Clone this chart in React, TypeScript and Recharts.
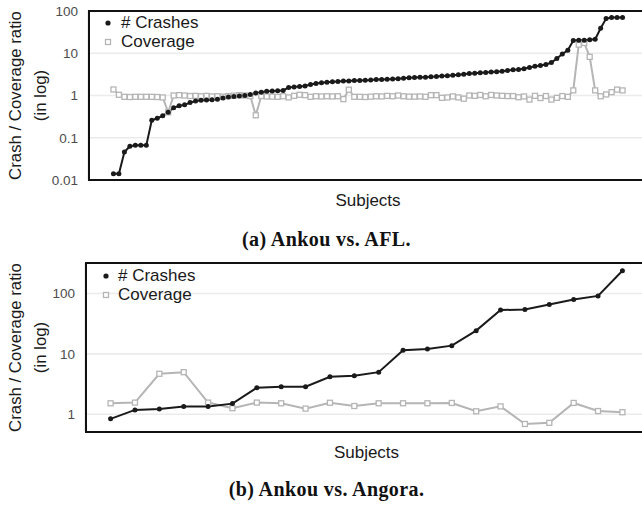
import { LineChart, Line, XAxis, YAxis, CartesianGrid, Legend } from 'recharts'

const SANS = '"Liberation Sans", Arial, Helvetica, sans-serif'
const SERIF = '"Liberation Serif", "Times New Roman", serif'
const CRASH_COLOR = '#1a1a1a'
const COV_COLOR = '#b5b5b5'

// (a) Ankou vs. AFL. — ratio per subject, sorted by crash ratio
const aflCrashes = [
  0.014, 0.014, 0.046, 0.063, 0.066, 0.066, 0.066, 0.26, 0.29, 0.33,
  0.4, 0.51, 0.57, 0.6, 0.68, 0.74, 0.77, 0.78, 0.79, 0.82,
  0.87, 0.92, 0.95, 0.97, 1.0, 1.06, 1.14, 1.2, 1.26, 1.27,
  1.29, 1.32, 1.55, 1.6, 1.63, 1.68, 1.82, 1.92, 2.0, 2.07,
  2.12, 2.15, 2.2, 2.2, 2.25, 2.28, 2.3, 2.33, 2.38, 2.4,
  2.42, 2.45, 2.5, 2.55, 2.62, 2.65, 2.7, 2.72, 2.78, 2.82,
  2.9, 2.95, 3.0, 3.1, 3.2, 3.3, 3.35, 3.45, 3.5, 3.58,
  3.65, 3.73, 3.9, 4.05, 4.15, 4.3, 4.6, 4.9, 5.1, 5.4,
  6.0, 7.5, 9.6, 11.8, 20, 20.2, 20.4, 21, 21.5, 39,
  66, 70, 70, 70,
]
const aflCoverage = [
  1.39, 1.04, 0.93, 0.92, 0.93, 0.93, 0.93, 0.93, 0.92, 0.9,
  0.4, 1.0, 1.02, 1.0, 0.97, 0.98, 0.96, 0.98, 0.95, 0.96,
  0.94, 0.97, 0.99, 1.02, 1.0, 0.97, 0.34, 0.97, 0.95, 0.94,
  0.93, 0.96, 0.9, 0.98, 1.04, 1.02, 0.93, 0.96, 0.95, 0.96,
  0.95, 0.96, 0.82, 1.37, 0.93, 0.93, 0.92, 0.94, 0.96, 0.95,
  0.98, 0.96, 1.0, 0.96, 0.94, 0.94, 0.95, 0.93, 1.02, 1.02,
  0.88, 0.9, 0.95, 0.9, 0.84, 1.0, 0.98, 1.03, 0.96, 1.03,
  1.0, 0.98, 0.97, 0.97, 0.91, 0.95, 0.8, 0.98, 0.87, 0.97,
  0.8, 0.88, 0.97, 0.93, 1.32, 16, 17.5, 8.2, 1.32, 0.96,
  1.06, 1.2, 1.38, 1.32,
]
const aflYTicks = [0.01, 0.1, 1, 10, 100]
const aflXGrid = [0, 25, 50, 75]

// (b) Ankou vs. Angora.
const angoraCrashes = [
  0.84, 1.18, 1.22, 1.35, 1.35, 1.5, 2.75, 2.86, 2.86, 4.17, 4.34,
  4.98, 11.5, 12.1, 13.7, 24.3, 53.2, 54.5, 65.7, 79.6, 91.4, 239,
]
const angoraCoverage = [
  1.52, 1.56, 4.68, 4.98, 1.56, 1.26, 1.56, 1.52, 1.24, 1.55, 1.37,
  1.52, 1.52, 1.52, 1.54, 1.12, 1.35, 0.69, 0.72, 1.54, 1.13, 1.08,
]
const angoraYTicks = [1, 10, 100]
const angoraXGrid = [0, 5, 10, 15, 20]

type Row = { subject: number; crashes: number; coverage: number }

const toRows = (crashes: number[], coverage: number[]): Row[] =>
  crashes.map((c, i) => ({ subject: i + 1, crashes: c, coverage: coverage[i] }))

function SquareDot(props: any) {
  const { cx, cy, index } = props
  if (cx == null || cy == null) return <g key={`sq-${index}`} />
  return (
    <rect
      key={`sq-${index}`}
      x={cx - 2.5}
      y={cy - 2.5}
      width={5}
      height={5}
      fill="#fff"
      stroke={COV_COLOR}
      strokeWidth={1.3}
    />
  )
}

function LegendBox({ gap }: { gap: number }) {
  const row = { display: 'flex', alignItems: 'center', height: 18.5 }
  return (
    <div style={{ fontFamily: SANS, fontSize: 17, lineHeight: '18.5px', color: '#1a1a1a' }}>
      <div style={row}>
        <svg width={16} height={12}>
          <circle cx={8} cy={6} r={2.6} fill={CRASH_COLOR} />
        </svg>
        <span style={{ marginLeft: gap }}># Crashes</span>
      </div>
      <div style={row}>
        <svg width={16} height={12}>
          <rect x={5.5} y={3.5} width={5} height={5} fill="#fff" stroke={COV_COLOR} strokeWidth={1.3} />
        </svg>
        <span style={{ marginLeft: gap }}>Coverage</span>
      </div>
    </div>
  )
}

function YLabel(props: any) {
  const vb = props.viewBox || {}
  const cy = (vb.y ?? 0) + (vb.height ?? 0) / 2
  const style = { fontFamily: SANS, fontSize: 16.8, fill: '#1a1a1a' }
  return (
    <g>
      <text transform={`translate(15, ${cy}) rotate(-90)`} textAnchor="middle" dominantBaseline="central" style={style}>
        Crash / Coverage ratio
      </text>
      <text transform={`translate(40, ${cy}) rotate(-90)`} textAnchor="middle" dominantBaseline="central" style={style}>
        (in log)
      </text>
    </g>
  )
}

function XLabel(props: any) {
  const vb = props.viewBox || {}
  return (
    <text
      x={(vb.x ?? 0) + (vb.width ?? 0) / 2}
      y={(vb.y ?? 0) + 20}
      textAnchor="middle"
      dominantBaseline="central"
      style={{ fontFamily: SANS, fontSize: 17, fill: '#1a1a1a' }}
    >
      Subjects
    </text>
  )
}

type PanelProps = {
  rows: Row[]
  top: number
  plotTop: number
  plotLeft: number
  xDomain: [number, number]
  xGrid: number[]
  yDomain: [number, number]
  yTicks: number[]
  legendLeft: number
  legendTop: number
  legendGap: number
}

function Panel(p: PanelProps) {
  const width = 660
  const height = 215
  return (
    <div style={{ position: 'absolute', left: 0, top: p.top, width, height }}>
      <LineChart
        width={width}
        height={height}
        data={p.rows}
        margin={{ top: p.plotTop, right: 12, left: 0, bottom: height - p.plotTop - 169 - 30 }}
      >
        <CartesianGrid stroke="#ebebeb" strokeWidth={1.6} />
        <XAxis
          dataKey="subject"
          type="number"
          domain={p.xDomain}
          ticks={p.xGrid}
          allowDataOverflow
          tick={false}
          tickLine={false}
          axisLine={false}
          height={30}
          label={{ content: (lp: any) => <XLabel {...lp} /> }}
        />
        <YAxis
          scale="log"
          domain={p.yDomain}
          ticks={p.yTicks}
          interval={0}
          allowDataOverflow
          width={p.plotLeft}
          tickSize={0}
          tickMargin={10}
          tickLine={false}
          axisLine={false}
          tickFormatter={(v: number) => String(v)}
          tick={{ fill: '#4d4d4d', fontSize: 13.5, fontFamily: SANS }}
          label={{ content: (lp: any) => <YLabel {...lp} /> }}
        />
        <Legend
          layout="horizontal"
          verticalAlign="middle"
          align="center"
          wrapperStyle={{ left: p.legendLeft, top: p.legendTop, width: 'auto' }}
          content={() => <LegendBox gap={p.legendGap} />}
        />
        <Line
          type="linear"
          dataKey="coverage"
          stroke={COV_COLOR}
          strokeWidth={2}
          dot={(dp: any) => <SquareDot {...dp} />}
          isAnimationActive={false}
        />
        <Line
          type="linear"
          dataKey="crashes"
          stroke={CRASH_COLOR}
          strokeWidth={2}
          dot={{ r: 2.5, fill: CRASH_COLOR, stroke: CRASH_COLOR, strokeWidth: 0 }}
          isAnimationActive={false}
        />
      </LineChart>
      <div
        style={{
          position: 'absolute',
          left: p.plotLeft,
          top: p.plotTop - 1,
          width: 600,
          height: 171,
          boxSizing: 'border-box',
          border: '2px solid #111',
          pointerEvents: 'none',
        }}
      />
    </div>
  )
}

function Caption({ text, top }: { text: string; top: number }) {
  return (
    <div
      style={{
        position: 'absolute',
        left: 0,
        top,
        width: 653,
        textAlign: 'center',
        fontFamily: SERIF,
        fontWeight: 'bold',
        fontSize: 20,
        lineHeight: '24px',
        letterSpacing: 0.4,
        color: '#111',
      }}
    >
      {text}
    </div>
  )
}

export default function App() {
  return (
    <div
      style={{
        position: 'absolute',
        left: 0,
        top: 0,
        width: 642,
        height: 506,
        overflow: 'hidden',
        background: '#fff',
      }}
    >
      <Panel
        rows={toRows(aflCrashes, aflCoverage)}
        top={0}
        plotTop={11}
        plotLeft={88}
        xDomain={[-3.65, 98.65]}
        xGrid={aflXGrid}
        yDomain={[0.01, 100]}
        yTicks={aflYTicks}
        legendLeft={100}
        legendTop={14}
        legendGap={5}
      />
      <Caption text="(a) Ankou vs. AFL." top={227} />
      <Panel
        rows={toRows(angoraCrashes, angoraCoverage)}
        top={250}
        plotTop={13}
        plotLeft={85}
        xDomain={[-0.05, 23.05]}
        xGrid={angoraXGrid}
        yDomain={[0.508, 321]}
        yTicks={angoraYTicks}
        legendLeft={98}
        legendTop={17}
        legendGap={4}
      />
      <Caption text="(b) Ankou vs. Angora." top={477} />
    </div>
  )
}
